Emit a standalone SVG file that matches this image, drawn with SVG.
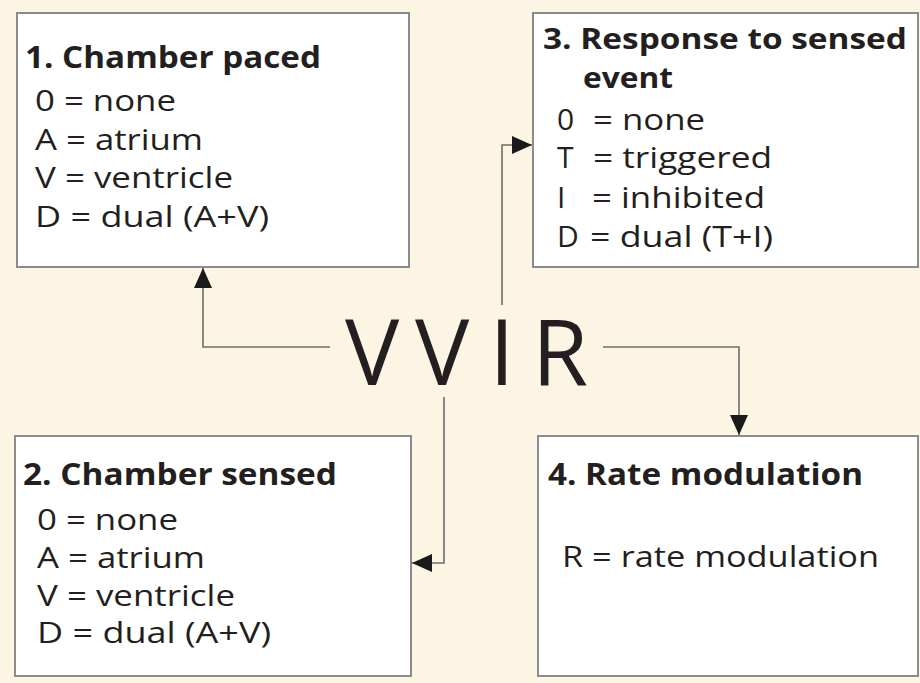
<svg xmlns="http://www.w3.org/2000/svg" width="920" height="683" viewBox="0 0 920 683">
<defs>
<style>
.bg{fill:#fdf5e4}
.box{fill:#ffffff;stroke:#8c8c8c;stroke-width:2}
.t{font-family:"Open Sans","Liberation Sans",sans-serif;fill:#231f20}
.h{font-size:31px;font-weight:700}
.h3{font-size:29px;font-weight:700}
.i{font-size:30px;font-weight:400}
.big{font-family:"Open Sans","Liberation Sans",sans-serif;font-size:91px;fill:#231f20}
.con{fill:none;stroke:#6e6e6e;stroke-width:1.6}
</style>
<marker id="ah" viewBox="0 0 20 18" refX="20" refY="9" markerWidth="20" markerHeight="18" markerUnits="userSpaceOnUse" orient="auto">
<path d="M0,0 L20,9 L0,18 Z" fill="#1a1a1a"/>
</marker>
</defs>
<rect class="bg" x="0" y="0" width="920" height="683"/>

<g id="box1">
<rect class="box" x="17" y="13" width="392" height="254"/>
<text class="t h" x="25" y="68" textLength="296" lengthAdjust="spacingAndGlyphs">1. Chamber paced</text>
<text class="t i" x="35" y="111" textLength="141" lengthAdjust="spacingAndGlyphs">0 = none</text>
<text class="t i" x="35" y="150" textLength="168" lengthAdjust="spacingAndGlyphs">A = atrium</text>
<text class="t i" x="35" y="188" textLength="198" lengthAdjust="spacingAndGlyphs">V = ventricle</text>
<text class="t i" x="35" y="227" textLength="234" lengthAdjust="spacingAndGlyphs">D = dual (A+V)</text>
</g>

<g id="box3">
<rect class="box" x="533" y="13" width="385" height="254"/>
<text class="t h3" x="543" y="49" textLength="364" lengthAdjust="spacingAndGlyphs">3. Response to sensed</text>
<text class="t h3" x="583" y="88" textLength="90" lengthAdjust="spacingAndGlyphs">event</text>
<text class="t i" x="557" y="130">0</text>
<text class="t i" x="593" y="130" textLength="112" lengthAdjust="spacingAndGlyphs">= none</text>
<text class="t i" x="557" y="168">T</text>
<text class="t i" x="593" y="168" textLength="179" lengthAdjust="spacingAndGlyphs">= triggered</text>
<text class="t i" x="557" y="208">I</text>
<text class="t i" x="592" y="208" textLength="173" lengthAdjust="spacingAndGlyphs">= inhibited</text>
<text class="t i" x="557" y="247">D</text>
<text class="t i" x="590" y="247" textLength="183" lengthAdjust="spacingAndGlyphs">= dual (T+I)</text>
</g>

<g id="box2">
<rect class="box" x="15" y="436" width="396" height="240"/>
<text class="t h" x="23" y="485" textLength="314" lengthAdjust="spacingAndGlyphs">2. Chamber sensed</text>
<text class="t i" x="37" y="530" textLength="141" lengthAdjust="spacingAndGlyphs">0 = none</text>
<text class="t i" x="37" y="568" textLength="168" lengthAdjust="spacingAndGlyphs">A = atrium</text>
<text class="t i" x="37" y="606" textLength="198" lengthAdjust="spacingAndGlyphs">V = ventricle</text>
<text class="t i" x="37" y="643" textLength="234" lengthAdjust="spacingAndGlyphs">D = dual (A+V)</text>
</g>

<g id="box4">
<rect class="box" x="538" y="436" width="380" height="240"/>
<text class="t h" x="548" y="485" textLength="315" lengthAdjust="spacingAndGlyphs">4. Rate modulation</text>
<text class="t i" x="562" y="567" textLength="317" lengthAdjust="spacingAndGlyphs">R = rate modulation</text>
</g>

<g id="code">
<text class="big" x="345" y="385">V</text>
<text class="big" x="415" y="385">V</text>
<text class="big" x="502" y="385" text-anchor="middle">I</text>
<text class="big" x="532" y="385">R</text>
</g>

<g id="connectors">
<path class="con" d="M330,347 H203 V268" marker-end="url(#ah)"/>
<path class="con" d="M502,305 V145 H532" marker-end="url(#ah)"/>
<path class="con" d="M444,397 V563 H412" marker-end="url(#ah)"/>
<path class="con" d="M603,347 H739 V435" marker-end="url(#ah)"/>
</g>
</svg>
